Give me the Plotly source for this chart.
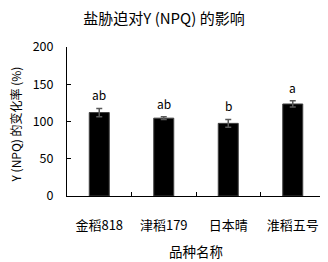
import plotly.graph_objects as go

categories = ["金稻818", "津稻179", "日本晴", "淮稻五号"]
values = [112, 104.5, 97.5, 123.5]
errors = [5.5, 1.8, 5.2, 4.2]
letters = ["ab", "ab", "b", "a"]
y_ticks = [0, 50, 100, 150, 200]

font = "Noto Sans CJK SC, Noto Sans, sans-serif"
# page body has an 8px margin, so the figure is drawn at (8, 8) in the window
OFF = 8
W, H = 328 - OFF, 262 - OFF
L, R, T, B = 67 - OFF, 3, 47 - OFF, H - (196 - OFF)

fig = go.Figure()
fig.add_trace(go.Bar(
    x=categories, y=values,
    marker=dict(color="black", line=dict(color="#404040", width=1)),
    width=0.31,
    error_y=dict(type="data", array=errors, visible=True, color="#595959", thickness=1.5, width=3),
))
for c, v, e, t in zip(categories, values, errors, letters):
    fig.add_annotation(x=c, y=v + e, text=t, showarrow=False, yanchor="bottom", yshift=3,
                       font=dict(family=font, size=12, color="black"))

ph = H - T - B
pw = W - L - R
# axis titles
fig.add_annotation(xref="paper", yref="paper", x=0.5, y=-((251 - OFF) - (H - B)) / ph,
                   text="品种名称", showarrow=False, xanchor="center", yanchor="middle",
                   font=dict(family=font, size=13.5, color="black"))
fig.add_annotation(xref="paper", yref="paper", x=-(L - (15 - OFF)) / pw, y=0.48,
                   text="Y (NPQ) 的变化率 (%)", showarrow=False, textangle=-90,
                   xanchor="center", yanchor="middle",
                   font=dict(family=font, size=12, color="black"))

fig.update_layout(
    width=W, height=H,
    margin=dict(l=L, r=R, t=T, b=B),
    paper_bgcolor="white", plot_bgcolor="white",
    showlegend=False,
    title=dict(text="盐胁迫对Y (NPQ) 的影响", x=(164 - OFF) / W, xanchor="center", xref="container",
               y=1 - (19 - OFF) / H, yanchor="middle", yref="container",
               font=dict(family=font, size=15, color="black")),
    font=dict(family=font, size=12, color="black"),
)
fig.update_xaxes(
    automargin=False,
    showline=True, linecolor="black", linewidth=1,
    ticks="inside", tickson="boundaries", ticklen=4, tickcolor="black",
    ticklabelstandoff=17,
    tickfont=dict(family=font, size=13),
)
fig.update_yaxes(
    automargin=False,
    range=[0, 200], tickvals=y_ticks, showgrid=False, zeroline=False,
    showline=True, linecolor="black", linewidth=1,
    ticks="inside", ticklen=4, tickcolor="black",
    ticklabelstandoff=10,
    tickfont=dict(family=font, size=12.5),
)

fig.write_html("out.html")
